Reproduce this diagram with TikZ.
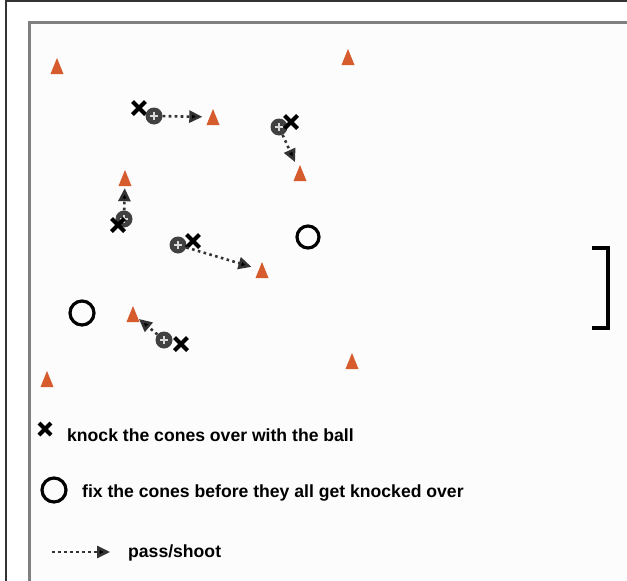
\documentclass[tikz,border=0pt]{standalone}
\usepackage{fontspec}
\setmainfont{Liberation Sans}
\usetikzlibrary{arrows.meta}
\definecolor{conecol}{RGB}{215,92,45}
\definecolor{ballgray}{RGB}{65,65,65}
\definecolor{fieldbg}{RGB}{251,252,251}
\tikzset{
  cone/.style={minimum width=13pt, minimum height=16pt, inner sep=0pt,
    path picture={\fill[conecol] (path picture bounding box.south west) -- (path picture bounding box.south east) -- (path picture bounding box.north) -- cycle;}},
  xmark/.style={minimum size=19pt, inner sep=0pt,
    path picture={\draw[line width=4pt]
      ([xshift=3pt,yshift=3pt]path picture bounding box.south west) -- ([xshift=-3pt,yshift=-3pt]path picture bounding box.north east)
      ([xshift=3pt,yshift=-3pt]path picture bounding box.north west) -- ([xshift=-3pt,yshift=3pt]path picture bounding box.south east);}},
  ballsym/.style={circle, fill=ballgray, minimum size=17pt, inner sep=0pt,
    path picture={\draw[white!85!black, line width=1.5pt]
      ([xshift=-4pt]path picture bounding box.center) -- ([xshift=4pt]path picture bounding box.center)
      ([yshift=-4pt]path picture bounding box.center) -- ([yshift=4pt]path picture bounding box.center);}},
  ring/.style={circle, draw=black, line width=3.2pt, minimum size=22pt, inner sep=0pt},
  pass/.style={draw=black!80, line width=2.6pt, dash pattern=on 2.6pt off 3.4pt,
    -{Triangle[length=13pt,width=12pt,fill=black]}},
  legend/.style={anchor=base west, inner sep=0pt, font=\bfseries\fontsize{17.6}{20}\selectfont, text=black},
  frameouter/.style={draw=black!80, line width=2pt},
  frameinner/.style={draw=black!50, line width=2.5pt}
}
\begin{document}
\begin{tikzpicture}[x=1pt,y=-1pt]
\useasboundingbox (0,0) rectangle (627,581);
\fill[white] (0,0) rectangle (627,581);
\fill[fieldbg] (29,22) rectangle (627,581);
% frame
\draw[frameouter] (5,1) -- (627,1);
\draw[frameouter] (6,0) -- (6,581);
\draw[frameinner] (28,22.5) -- (627,22.5);
\draw[frameinner] (29.5,21) -- (29.5,581);
% cones
\node[cone] (c1) at (57,66) {};
\node[cone] (c2) at (348,57) {};
\node[cone] (c3) at (213,117) {};
\node[cone] (c4) at (300,173) {};
\node[cone] (c5) at (125,178) {};
\node[cone] (c6) at (262,270) {};
\node[cone] (c7) at (133,314) {};
\node[cone] (c8) at (352,361) {};
\node[cone] (c9) at (47,379) {};
% players: X and ball
\node[xmark] (x1) at (139,108) {};
\node[ballsym] (b1) at (154,116) {};
\node[ballsym] (b2) at (279,127) {};
\node[xmark] (x2) at (291,122) {};
\node[ballsym] (b3) at (124,219) {};
\node[xmark] (x3) at (118,225) {};
\node[ballsym] (b4) at (178,245) {};
\node[xmark] (x4) at (193,241) {};
\node[ballsym] (b5) at (164,340) {};
\node[xmark] (x5) at (181,344) {};
% rings
\node[ring] (o1) at (308,237) {};
\node[ring, minimum size=24pt] (o2) at (82,313) {};
% passes
\draw[pass, shorten >=4pt] (b1) -- (c3);
\draw[pass, shorten >=3pt] (b2) -- (c4);
\draw[pass, shorten >=2pt] (b3) -- (c5);
\draw[pass, shorten >=4pt] (b4) -- (c6);
\draw[pass, shorten >=-1pt] (b5) -- (c7);
% goal
\coordinate (g1) at (592,248);
\coordinate (g2) at (608,248);
\coordinate (g3) at (608,328);
\coordinate (g4) at (592,328);
\draw[line width=3.2pt] (g1) -- (g2) -- (g3) -- (g4);
% legend
\node[xmark, minimum size=18pt] (lx) at (45,429) {};
\node[legend] (t1) at (67,441) {knock the cones over with the ball};
\node[ring, minimum size=24pt] (lo) at (54,490) {};
\node[legend] (t2) at (82,497) {fix the cones before they all get knocked over};
\coordinate (la1) at (52,552);
\coordinate (la2) at (110,552);
\draw[pass] (la1) -- (la2);
\node[legend] (t3) at (128,557) {pass/shoot};
\end{tikzpicture}
\end{document}
